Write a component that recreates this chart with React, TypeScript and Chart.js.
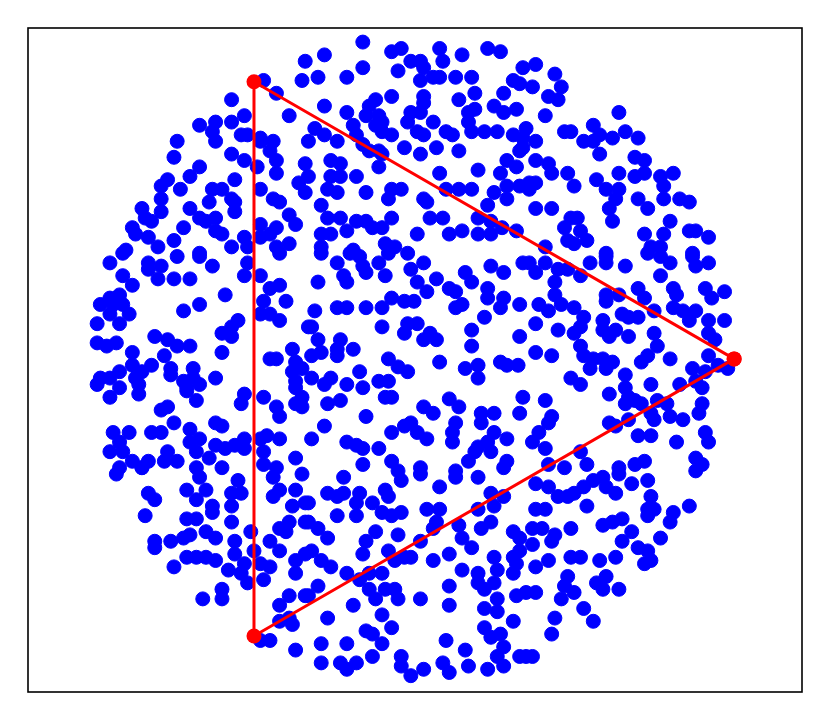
import React, { useEffect, useRef } from "react";
import { Chart, registerables } from "chart.js";

Chart.register(...registerables);

// Sample points (x, y) in data units (unit circle)
const circlePoints: [number, number][] = [
  // upper-left
  [-0.34,0.93],[-0.35,0.87],[-0.47,0.87],[-0.43,0.83],[-0.57,0.81],[-0.39,0.76],[-0.53,0.76],[-0.62,0.74],[-0.67,0.73],[-0.57,0.74],[-0.63,0.71],[-0.54,0.70],[-0.52,0.70],[-0.48,0.69],[-0.44,0.68],[-0.62,0.68],[-0.48,0.68],[-0.74,0.68],[-0.75,0.63],[-0.57,0.64],[-0.45,0.65],[-0.53,0.62],[-0.43,0.62],[-0.49,0.60],[-0.67,0.60],[-0.70,0.57],[-0.43,0.58],[-0.34,0.61],[-0.77,0.56],[-0.56,0.56],[-0.79,0.54],[-0.73,0.53],[-0.63,0.53],[-0.60,0.53],[-0.48,0.53],[-0.36,0.55],[-0.34,0.52],[-0.79,0.50],[-0.44,0.50],[-0.42,0.49],[-0.57,0.50],[-0.56,0.49],[-0.64,0.49],[-0.85,0.47],[-0.70,0.47],[-0.56,0.46],[-0.79,0.46],[-0.39,0.45],[-0.84,0.44],[-0.67,0.44],[-0.62,0.44],[-0.82,0.43],[-0.37,0.42],[-0.48,0.42],[-0.43,0.41],[-0.88,0.41],[-0.72,0.41],[-0.65,0.43],[-0.87,0.39],[-0.62,0.40],[-0.60,0.39],[-0.83,0.38],[-0.75,0.37],[-0.53,0.38],[-0.48,0.38],[-0.45,0.39],[-0.39,0.36],[-0.90,0.34],[-0.80,0.35],[-0.57,0.35],[-0.52,0.35],[-0.67,0.33],[-0.43,0.35],
  // upper-middle
  [-0.16,0.99],[-0.28,0.95],[-0.07,0.96],[-0.04,0.97],[-0.01,0.93],[0.02,0.93],[0.08,0.97],[0.09,0.93],[0.15,0.95],[0.23,0.97],[0.27,0.96],[-0.16,0.91],[-0.30,0.88],[-0.21,0.88],[-0.05,0.90],[0.03,0.91],[0.02,0.87],[0.06,0.88],[0.08,0.88],[0.13,0.88],[0.18,0.88],[0.19,0.83],[0.14,0.81],[0.28,0.83],[0.31,0.87],[0.33,0.86],[0.34,0.91],[-0.07,0.82],[0.03,0.82],[0.03,0.80],[-0.12,0.81],[-0.14,0.79],[-0.28,0.79],[-0.21,0.77],[-0.15,0.76],[-0.11,0.76],[-0.01,0.77],[0.02,0.77],[0.17,0.77],[0.19,0.78],[0.25,0.79],[0.28,0.77],[0.32,0.78],[0.17,0.74],[-0.02,0.74],[0.06,0.74],[-0.12,0.73],[-0.10,0.74],[-0.19,0.73],[-0.31,0.72],[0.18,0.71],[0.22,0.71],[0.26,0.71],[0.31,0.70],[0.34,0.69],[0.10,0.71],[0.12,0.70],[0.01,0.71],[0.03,0.70],[-0.07,0.70],[-0.10,0.71],[-0.33,0.68],[-0.28,0.70],[-0.24,0.68],[-0.18,0.70],[-0.16,0.67],[0.07,0.66],[-0.03,0.66],[0.02,0.64],[0.14,0.65],[-0.11,0.65],[-0.10,0.64],[-0.14,0.65],[0.33,0.65],[0.29,0.62],[-0.26,0.62],[-0.23,0.61],[-0.11,0.60],[0.08,0.58],[0.20,0.59],[0.27,0.58],[0.32,0.60],[-0.33,0.57],[-0.26,0.57],[-0.23,0.57],[-0.18,0.57],[0.29,0.54],[0.33,0.54],[-0.27,0.53],[-0.24,0.52],[-0.15,0.52],[-0.07,0.53],[-0.04,0.53],[-0.08,0.50],[0.10,0.53],[0.14,0.53],[0.18,0.53],[0.25,0.52],[0.29,0.50],[0.03,0.50],[0.04,0.49],[-0.29,0.48],[0.23,0.48],[0.20,0.44],[0.24,0.43],[0.275,0.41],[0.32,0.40],[-0.27,0.44],[-0.23,0.44],[-0.18,0.43],[-0.15,0.43],[-0.21,0.40],[-0.13,0.41],[-0.10,0.41],[-0.07,0.44],[0.05,0.44],[0.09,0.44],[-0.29,0.39],[-0.26,0.39],[0.01,0.39],[0.11,0.39],[0.15,0.40],[0.20,0.39],[0.24,0.39],[-0.29,0.35],[-0.19,0.34],[-0.09,0.36],[-0.06,0.35],[-0.02,0.33],
  // upper-right
  [0.38,0.92],[0.44,0.89],[0.37,0.85],[0.46,0.85],[0.42,0.82],[0.45,0.81],[0.41,0.76],[0.64,0.77],[0.35,0.72],[0.47,0.71],[0.49,0.71],[0.53,0.68],[0.56,0.73],[0.58,0.70],[0.56,0.68],[0.62,0.69],[0.66,0.71],[0.70,0.69],[0.38,0.68],[0.34,0.66],[0.58,0.64],[0.69,0.63],[0.72,0.62],[0.38,0.62],[0.42,0.61],[0.43,0.58],[0.48,0.58],[0.50,0.54],[0.36,0.55],[0.38,0.55],[0.36,0.53],[0.57,0.56],[0.64,0.58],[0.60,0.53],[0.64,0.53],[0.63,0.50],[0.69,0.57],[0.72,0.58],[0.77,0.57],[0.81,0.58],[0.78,0.54],[0.70,0.50],[0.73,0.47],[0.78,0.50],[0.83,0.50],[0.86,0.49],[0.38,0.47],[0.43,0.47],[0.61,0.47],[0.62,0.43],[0.49,0.44],[0.51,0.44],[0.47,0.41],[0.52,0.40],[0.48,0.37],[0.50,0.36],[0.54,0.37],[0.72,0.39],[0.80,0.43],[0.78,0.39],[0.86,0.40],[0.88,0.40],[0.92,0.38],[0.74,0.35],[0.77,0.35],[0.60,0.33],[0.87,0.33],[0.41,0.35],
  // middle-left
  [-0.91,0.33],[-0.74,0.32],[-0.67,0.32],[-0.95,0.30],[-0.83,0.30],[-0.79,0.29],[-0.63,0.29],[-0.52,0.30],[-0.42,0.33],[-0.91,0.26],[-0.83,0.28],[-0.80,0.25],[-0.75,0.25],[-0.70,0.25],[-0.53,0.26],[-0.48,0.26],[-0.88,0.23],[-0.45,0.22],[-0.42,0.23],[-0.59,0.20],[-0.95,0.19],[-0.92,0.20],[-0.98,0.17],[-0.94,0.17],[-0.91,0.17],[-0.67,0.17],[-0.47,0.18],[-0.40,0.18],[-0.72,0.15],[-0.95,0.14],[-0.89,0.14],[-0.48,0.14],[-0.45,0.14],[-0.42,0.12],[-0.99,0.11],[-0.92,0.11],[-0.55,0.12],[-0.57,0.10],[-0.33,0.10],[-0.60,0.08],[-0.57,0.07],[-0.81,0.07],[-0.77,0.06],[-0.99,0.05],[-0.93,0.05],[-0.96,0.04],[-0.74,0.04],[-0.70,0.04],[-0.38,0.03],[-0.88,0.02],[-0.60,0.02],[-0.45,0.00],[-0.43,0.00],[-0.37,-0.01],[-0.78,0.01],[-0.82,-0.02],[-0.88,-0.02],[-0.76,-0.03],[-0.69,-0.03],[-0.92,-0.04],[-0.85,-0.04],[-0.76,-0.05],[-0.38,-0.04],[-0.35,-0.03],[-0.98,-0.06],[-0.95,-0.06],[-0.87,-0.06],[-0.62,-0.06],[-0.72,-0.07],[-0.69,-0.06],[-0.37,-0.07],[-0.99,-0.08],[-0.92,-0.09],[-0.86,-0.08],[-0.71,-0.09],[-0.67,-0.08],[-0.37,-0.09],[-0.86,-0.11],[-0.71,-0.10],[-0.53,-0.11],[-0.47,-0.12],[-0.95,-0.12],[-0.68,-0.13],[-0.35,-0.12],[-0.54,-0.14],[-0.37,-0.14],[-0.43,-0.15],[-0.35,-0.15],[-0.77,-0.15],[-0.79,-0.16],[-0.42,-0.18],[-0.75,-0.20],[-0.62,-0.20],[-0.60,-0.21],[-0.94,-0.23],[-0.89,-0.23],[-0.82,-0.23],[-0.79,-0.23],[-0.70,-0.22],[-0.67,-0.25],[-0.48,-0.25],[-0.46,-0.24],[-0.42,-0.25],[-0.53,-0.25],[-0.70,-0.26],[-0.92,-0.26],[-0.62,-0.27],[-0.59,-0.28],[-0.56,-0.27],[-0.53,-0.28],[-0.95,-0.29],[-0.91,-0.29],[-0.77,-0.29],[-0.68,-0.29],[-0.47,-0.29],[-0.37,-0.31],[-0.88,-0.32],[-0.83,-0.32],[-0.78,-0.32],[-0.74,-0.32],[-0.64,-0.31],[-0.47,-0.33],[-0.92,-0.34],[-0.85,-0.34],[-0.68,-0.34],[-0.60,-0.34],
  // centre
  [-0.29,0.33],[-0.20,0.33],[-0.17,0.32],[-0.08,0.33],[-0.24,0.30],[-0.11,0.30],[-0.16,0.29],[-0.01,0.28],[0.03,0.30],[-0.22,0.26],[-0.15,0.27],[-0.09,0.26],[0.07,0.25],[0.01,0.24],[0.16,0.27],[0.18,0.24],[0.24,0.29],[0.28,0.27],[0.34,0.30],[-0.30,0.24],[-0.21,0.24],[0.11,0.22],[0.13,0.21],[0.23,0.22],[0.23,0.19],[0.28,0.19],[-0.07,0.19],[0.04,0.21],[-0.03,0.18],[0.00,0.18],[-0.24,0.16],[-0.21,0.16],[-0.15,0.16],[-0.10,0.16],[-0.31,0.15],[0.13,0.16],[0.15,0.17],[0.27,0.16],[0.33,0.17],[0.22,0.13],[-0.02,0.11],[0.01,0.11],[-0.32,0.10],[-0.10,0.10],[0.05,0.08],[-0.03,0.08],[0.18,0.09],[0.03,0.06],[0.07,0.06],[0.18,0.04],[0.33,0.07],[-0.30,0.06],[-0.23,0.06],[-0.24,0.03],[-0.19,0.03],[-0.29,0.02],[-0.32,0.01],[-0.24,0.01],[-0.08,0.00],[0.08,-0.01],[0.16,-0.03],[0.20,-0.02],[0.27,-0.01],[0.29,-0.02],[0.325,-0.02],[-0.05,-0.025],[-0.02,-0.04],[-0.17,-0.04],[0.20,-0.06],[-0.32,-0.06],[-0.26,-0.06],[-0.28,-0.08],[-0.21,-0.08],[-0.11,-0.07],[-0.08,-0.07],[-0.16,-0.09],[-0.09,-0.12],[-0.07,-0.12],[-0.23,-0.13],[0.11,-0.125],[-0.27,-0.14],[0.03,-0.15],[0.06,-0.17],[0.14,-0.15],[0.21,-0.17],[0.25,-0.17],[0.34,-0.12],[0.33,-0.17],[-0.15,-0.18],[0.13,-0.20],[0.21,-0.20],[-0.03,-0.21],[-0.28,-0.21],[-0.01,-0.20],[0.01,-0.23],[-0.07,-0.23],[0.12,-0.23],[0.25,-0.23],[-0.32,-0.25],[-0.21,-0.26],[-0.18,-0.27],[-0.16,-0.28],[0.04,-0.25],[0.12,-0.26],[0.20,-0.275],[0.23,-0.26],[0.29,-0.25],[-0.11,-0.28],[0.19,-0.29],[0.24,-0.29],[-0.16,-0.33],[-0.07,-0.32],[0.17,-0.32],[0.29,-0.32],[0.02,-0.34],[0.13,-0.35],
  // middle-right
  [0.36,0.30],[0.41,0.30],[0.45,0.28],[0.48,0.28],[0.38,0.27],[0.52,0.26],[0.44,0.24],[0.55,0.30],[0.60,0.32],[0.60,0.30],[0.66,0.29],[0.73,0.33],[0.77,0.32],[0.80,0.30],[0.77,0.26],[0.87,0.32],[0.88,0.29],[0.92,0.30],[0.70,0.22],[0.81,0.22],[0.82,0.20],[0.91,0.22],[0.93,0.19],[0.97,0.21],[0.44,0.20],[0.60,0.20],[0.64,0.20],[0.72,0.19],[0.39,0.17],[0.42,0.15],[0.46,0.17],[0.50,0.16],[0.53,0.13],[0.60,0.18],[0.65,0.14],[0.67,0.13],[0.70,0.13],[0.75,0.15],[0.81,0.16],[0.84,0.15],[0.88,0.15],[0.86,0.12],[0.92,0.12],[0.97,0.12],[0.38,0.11],[0.45,0.09],[0.52,0.10],[0.50,0.08],[0.59,0.12],[0.59,0.09],[0.63,0.09],[0.61,0.07],[0.67,0.07],[0.75,0.08],[0.76,0.04],[0.92,0.08],[0.94,0.06],[0.38,0.02],[0.43,0.01],[0.52,0.04],[0.53,0.01],[0.56,0.00],[0.59,0.00],[0.62,-0.01],[0.55,-0.03],[0.60,-0.03],[0.73,0.01],[0.71,-0.01],[0.80,0.00],[0.92,0.01],[0.95,-0.02],[0.87,-0.03],[0.98,-0.03],[0.91,-0.04],[0.66,-0.05],[0.49,-0.06],[0.52,-0.08],[0.66,-0.09],[0.74,-0.08],[0.83,-0.08],[0.88,-0.07],[0.90,-0.09],[0.61,-0.11],[0.67,-0.12],[0.69,-0.13],[0.71,-0.14],[0.66,-0.14],[0.76,-0.13],[0.79,-0.14],[0.41,-0.13],[0.90,-0.14],[0.89,-0.17],[0.43,-0.18],[0.42,-0.20],[0.74,-0.17],[0.75,-0.19],[0.80,-0.18],[0.84,-0.19],[0.61,-0.20],[0.67,-0.19],[0.39,-0.23],[0.63,-0.21],[0.70,-0.24],[0.74,-0.24],[0.91,-0.23],[0.92,-0.26],[0.37,-0.26],[0.82,-0.26],[0.41,-0.28],[0.52,-0.29],[0.72,-0.32],[0.69,-0.33],[0.88,-0.31],[0.90,-0.33],[0.42,-0.33],[0.54,-0.33],[0.64,-0.34],
  // lower-left
  [-0.93,-0.36],[-0.85,-0.34],[-0.67,-0.37],[-0.65,-0.41],[-0.68,-0.44],[-0.71,-0.41],[-0.83,-0.42],[-0.81,-0.44],[-0.55,-0.38],[-0.57,-0.42],[-0.54,-0.42],[-0.57,-0.46],[-0.63,-0.46],[-0.63,-0.48],[-0.84,-0.49],[-0.71,-0.50],[-0.68,-0.50],[-0.57,-0.51],[-0.65,-0.54],[-0.62,-0.56],[-0.51,-0.54],[-0.81,-0.57],[-0.76,-0.57],[-0.72,-0.56],[-0.70,-0.55],[-0.81,-0.59],[-0.56,-0.57],[-0.56,-0.61],[-0.50,-0.60],[-0.71,-0.62],[-0.68,-0.62],[-0.65,-0.62],[-0.62,-0.63],[-0.75,-0.65],[-0.58,-0.66],[-0.53,-0.64],[-0.54,-0.67],[-0.52,-0.70],[-0.48,-0.64],[-0.45,-0.65],[-0.47,-0.69],[-0.60,-0.72],[-0.60,-0.75],[-0.66,-0.75],[-0.43,-0.34],[-0.44,-0.37],[-0.35,-0.36],[-0.42,-0.41],[-0.44,-0.43],[-0.37,-0.41],[-0.38,-0.46],[-0.34,-0.45],[-0.39,-0.51],[-0.42,-0.53],[-0.40,-0.54],[-0.34,-0.51],[-0.45,-0.57],[-0.42,-0.60],[-0.37,-0.63],[-0.34,-0.61],[-0.37,-0.67],[-0.39,-0.74],[-0.42,-0.77],[-0.39,-0.81],[-0.42,-0.82],[-0.38,-0.83],[-0.34,-0.74],[-0.48,-0.88],[-0.45,-0.88],[-0.37,-0.91],
  // lower-middle
  [-0.05,-0.35],[-0.04,-0.38],[0.02,-0.36],[0.13,-0.37],[0.20,-0.37],[0.28,-0.34],[-0.22,-0.37],[-0.27,-0.42],[-0.24,-0.43],[-0.22,-0.42],[-0.17,-0.42],[-0.13,-0.45],[-0.18,-0.45],[-0.09,-0.41],[-0.08,-0.43],[-0.33,-0.45],[0.08,-0.40],[0.24,-0.42],[0.28,-0.43],[0.25,-0.46],[0.20,-0.47],[0.04,-0.47],[0.08,-0.47],[-0.24,-0.49],[-0.18,-0.49],[-0.10,-0.48],[-0.04,-0.48],[-0.07,-0.49],[-0.33,-0.51],[-0.30,-0.53],[-0.27,-0.56],[0.07,-0.51],[0.06,-0.53],[0.14,-0.52],[0.15,-0.56],[0.21,-0.53],[0.24,-0.51],[0.31,-0.54],[0.33,-0.56],[0.33,-0.60],[0.31,-0.62],[0.32,-0.64],[-0.12,-0.54],[-0.15,-0.57],[-0.05,-0.55],[0.02,-0.57],[0.18,-0.59],[-0.32,-0.60],[-0.16,-0.61],[-0.08,-0.60],[-0.06,-0.63],[-0.03,-0.62],[-0.01,-0.62],[0.11,-0.61],[0.06,-0.63],[-0.29,-0.63],[-0.26,-0.65],[0.25,-0.62],[0.26,-0.66],[0.31,-0.67],[0.15,-0.66],[0.20,-0.67],[-0.21,-0.67],[-0.17,-0.69],[-0.14,-0.67],[-0.10,-0.67],[-0.30,-0.71],[-0.33,-0.74],[-0.14,-0.72],[-0.09,-0.72],[-0.06,-0.72],[-0.12,-0.75],[-0.05,-0.75],[0.11,-0.71],[0.22,-0.72],[0.25,-0.70],[0.32,-0.74],[0.20,-0.70],[0.02,-0.75],[0.26,-0.75],[-0.19,-0.77],[0.11,-0.77],[0.22,-0.78],[-0.10,-0.80],[0.26,-0.79],[-0.27,-0.81],[-0.07,-0.84],[0.31,-0.82],[0.22,-0.84],[-0.15,-0.85],[-0.13,-0.86],[0.24,-0.87],[0.27,-0.86],[-0.29,-0.89],[-0.21,-0.89],[-0.10,-0.89],[0.10,-0.88],[0.16,-0.91],[0.28,-0.90],[0.26,-0.93],[0.33,-0.93],[-0.29,-0.95],[-0.23,-0.95],[-0.18,-0.95],[-0.21,-0.97],[-0.13,-0.93],[-0.04,-0.93],[-0.04,-0.96],[-0.01,-0.99],[0.03,-0.97],[0.09,-0.95],[0.11,-0.98],[0.17,-0.96],[0.23,-0.97],[0.28,-0.96],
  // lower-right
  [0.47,-0.34],[0.88,-0.35],[0.64,-0.36],[0.59,-0.37],[0.56,-0.38],[0.68,-0.39],[0.73,-0.38],[0.38,-0.39],[0.42,-0.40],[0.45,-0.43],[0.48,-0.43],[0.50,-0.42],[0.53,-0.40],[0.60,-0.40],[0.63,-0.42],[0.74,-0.43],[0.86,-0.46],[0.38,-0.47],[0.41,-0.47],[0.54,-0.46],[0.73,-0.47],[0.75,-0.47],[0.73,-0.49],[0.81,-0.48],[0.80,-0.51],[0.77,-0.56],[0.37,-0.53],[0.40,-0.53],[0.49,-0.53],[0.59,-0.52],[0.62,-0.51],[0.65,-0.50],[0.68,-0.54],[0.44,-0.55],[0.43,-0.57],[0.65,-0.57],[0.37,-0.58],[0.70,-0.59],[0.73,-0.60],[0.74,-0.63],[0.72,-0.64],[0.38,-0.65],[0.42,-0.63],[0.49,-0.62],[0.52,-0.62],[0.58,-0.63],[0.63,-0.62],[0.48,-0.68],[0.60,-0.68],[0.57,-0.70],[0.59,-0.72],[0.64,-0.72],[0.35,-0.73],[0.38,-0.73],[0.47,-0.71],[0.50,-0.73],[0.46,-0.75],[0.53,-0.78],[0.56,-0.82],[0.44,-0.81],[0.43,-0.86],[0.35,-0.93],[0.37,-0.93],
];

// Inscribed equilateral triangle (closed)
const triangleX = [1, -0.5, -0.5, 1];
const triangleY = [0, 0.866, -0.866, 0];

const framePlugin = {
  id: "frame",
  afterDraw(chart: any) {
    const { ctx, chartArea: a } = chart;
    ctx.save();
    ctx.strokeStyle = "#000000";
    ctx.lineWidth = 1.6;
    ctx.strokeRect(a.left, a.top, a.right - a.left, a.bottom - a.top);
    ctx.restore();
  },
};

export default function App() {
  const ref = useRef<HTMLCanvasElement>(null);
  useEffect(() => {
    const chart = new Chart(ref.current as HTMLCanvasElement, {
      type: "scatter",
      data: {
        datasets: [
          {
            label: "triangle",
            data: triangleX.map((x, i) => ({ x, y: triangleY[i] })),
            showLine: true,
            borderColor: "#ff0000",
            backgroundColor: "#ff0000",
            borderWidth: 3,
            pointRadius: 7.5,
            pointBorderWidth: 0,
            order: 0,
          },
          {
            label: "points",
            data: circlePoints.map(([x, y]) => ({ x, y })),
            backgroundColor: "#0000ff",
            borderColor: "#0000ff",
            pointRadius: 7,
            pointBorderWidth: 1,
            order: 1,
          },
        ],
      },
      options: {
        responsive: false,
        animation: false,
        layout: { padding: { left: 28, right: 28, top: 28, bottom: 29 } },
        plugins: { legend: { display: false }, tooltip: { enabled: false } },
        scales: {
          x: { type: "linear", display: false, min: -1.206, max: 1.212 },
          y: { type: "linear", display: false, min: -1.041, max: 1.034 },
        },
      },
      plugins: [framePlugin],
    } as any);
    return () => chart.destroy();
  }, []);
  return (
    <div style={{ position: "absolute", left: 0, top: 0, width: 830, height: 721, background: "#ffffff" }}>
      <canvas ref={ref} width={830} height={721} style={{ display: "block" }} />
    </div>
  );
}
